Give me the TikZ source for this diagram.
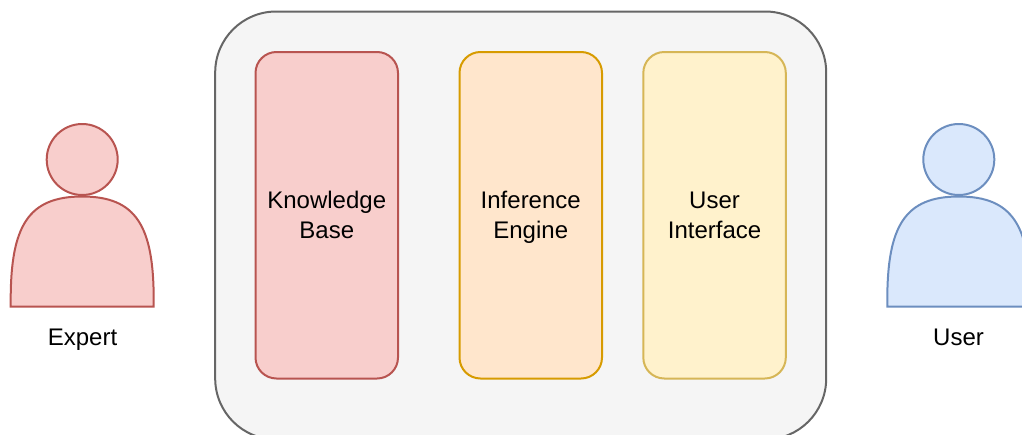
\documentclass[tikz,border=0pt]{standalone}
\usepackage{fontspec}
\setmainfont{Liberation Sans}
\definecolor{redfill}{HTML}{F8CECC}
\definecolor{redline}{HTML}{B85450}
\definecolor{orangefill}{HTML}{FFE6CC}
\definecolor{orangeline}{HTML}{D79B00}
\definecolor{yellowfill}{HTML}{FFF2CC}
\definecolor{yellowline}{HTML}{D6B656}
\definecolor{bluefill}{HTML}{DAE8FC}
\definecolor{blueline}{HTML}{6C8EBF}
\definecolor{boxfill}{HTML}{F5F5F5}
\definecolor{boxline}{HTML}{666666}
\tikzset{
  x=1pt,y=-1pt,
  every node/.style={font=\fontsize{24}{30}\selectfont,align=center},
  module/.style={draw,rounded corners=21,line width=2,minimum width=142.5,minimum height=326.5,anchor=north west,inner sep=0,text height=53,text depth=7},
  caption/.style={text height=17,text depth=5},
}
\newcommand{\actor}[3]{
  \draw[line width=2,draw=#3,fill=#2] (#1-71.5,306.5) -- (#1-71.5,300)
    .. controls (#1-71.5,226) and (#1-54,196.5) .. (#1,196.5)
    .. controls (#1+54,196.5) and (#1+71.5,226) .. (#1+71.5,300) -- (#1+71.5,306.5) -- cycle;
  \draw[line width=2,draw=#3,fill=#2] (#1,159.5) circle (35.5);
}
\begin{document}
\begin{tikzpicture}
    \useasboundingbox (0,0) rectangle (1022,434);
    \begin{scope}
        \clip (0,0) rectangle (1022,434);
        \node[draw=boxline,fill=boxfill,rounded corners=61,line width=2,minimum width=611,minimum height=428,anchor=north west,inner sep=0] (system) at (214.2,10.5) {};
    \end{scope}
    \node[module,draw=redline,fill=redfill] (kb) at (254.5,51) {Knowledge\\Base};
    \node[module,draw=orangeline,fill=orangefill] (engine) at (458.5,51) {Inference\\Engine};
    \node[module,draw=yellowline,fill=yellowfill] (ui) at (642.3,51) {User\\Interface};
    \actor{82.2}{redfill}{redline}
    \actor{958.8}{bluefill}{blueline}
    \node[caption] (expert) at (82.5,339) {Expert};
    \node[caption] (user) at (958.5,339) {User};
\end{tikzpicture}
\end{document}
